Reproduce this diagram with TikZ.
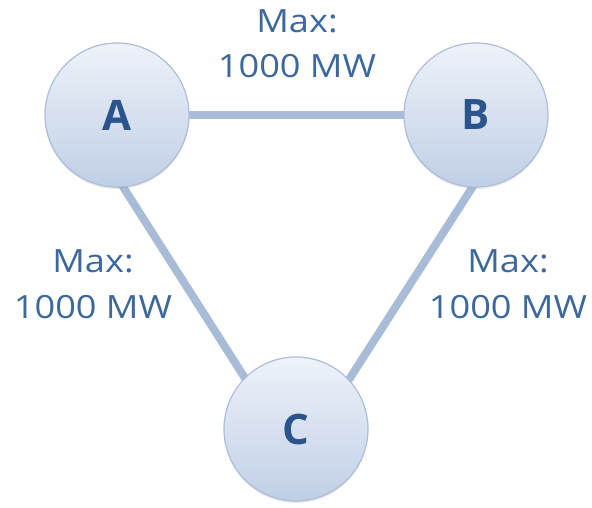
\documentclass[tikz,border=0pt]{standalone}
\usepackage{fontspec}
\newfontfamily\labfont[FakeStretch=1.13]{Open Sans}
\newfontfamily\letfont{Open Sans}
\usetikzlibrary{shadows}
\pgfdeclarelayer{bg}
\pgfsetlayers{bg,main}
\definecolor{linecol}{RGB}{168,188,216}
\definecolor{labcol}{RGB}{60,104,158}
\definecolor{letcol}{RGB}{44,84,140}
\definecolor{circtop}{RGB}{238,242,249}
\definecolor{circbot}{RGB}{192,207,230}
\definecolor{circedge}{RGB}{172,190,217}
\tikzset{
  station/.style={circle, minimum size=144pt, inner sep=0pt,
    top color=circtop, bottom color=circbot, draw=circedge, line width=1.2pt,
    drop shadow={opacity=0.18, shadow xshift=0pt, shadow yshift=-2pt},
    text=letcol, font=\letfont\bfseries\fontsize{42}{42}\selectfont},
  link/.style={draw=linecol, line width=8pt},
  limitlabel/.style={text=labcol, font=\labfont\fontsize{32}{45}\selectfont, inner sep=0pt, anchor=base}
}
\begin{document}
\begin{tikzpicture}[x=1pt,y=-1pt]
\useasboundingbox (0,0) rectangle (592,508);
\node[station] (A) at (117,115) {A};
\node[station] (B) at (476,115) {B};
\node[station] (C) at (296,429) {C};
\begin{pgfonlayer}{bg}
\draw[link] ([xshift=-10pt]A.0) -- ([xshift=10pt]B.180);
\draw[link, shorten <=-6pt, shorten >=-6pt] (A.-85) -- (C.135);
\draw[link, shorten <=-6pt, shorten >=-6pt] (B.-93) -- (C.43);
\end{pgfonlayer}
\node[limitlabel] (tab1) at (297,33) {Max:};
\node[limitlabel] (tab2) at (297,78) {1000 MW};
\node[limitlabel] (lac1) at (93,272) {Max:};
\node[limitlabel] (lac2) at (93,318) {1000 MW};
\node[limitlabel] (rbc1) at (508,272) {Max:};
\node[limitlabel] (rbc2) at (508,318) {1000 MW};
\end{tikzpicture}
\end{document}
